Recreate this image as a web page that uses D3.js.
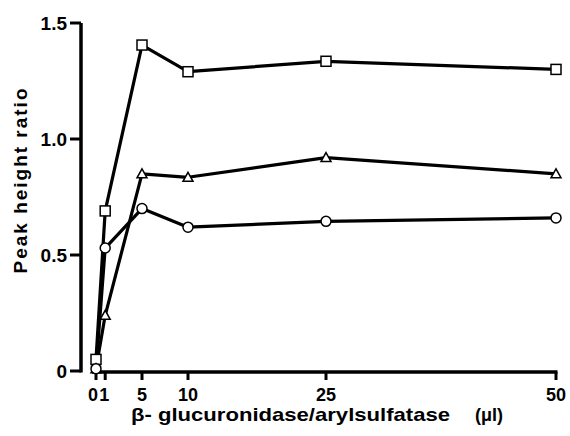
<!DOCTYPE html>
<html><head><meta charset="utf-8">
<script src="https://cdn.jsdelivr.net/npm/d3@7"></script>
<style>body{margin:0;background:#fff}svg{display:block}text{font-family:"Liberation Sans",Arial,sans-serif;font-weight:bold;fill:#000}</style>
</head><body><svg id="c" width="570" height="436"></svg>
<script>
const doses = [0, 1, 5, 10, 25, 50];
const squareSeries = [0.05, 0.69, 1.405, 1.29, 1.335, 1.30];
const triangleSeries = [0.01, 0.24, 0.85, 0.835, 0.92, 0.85];
const circleSeries = [0.01, 0.53, 0.70, 0.62, 0.645, 0.66];
const xTicks = [0, 1, 5, 10, 25, 50];
const xTickLabels = ["0", "1", "5", "10", "25", "50"];
const yTicks = [0, 0.5, 1.0, 1.5];
const yTickLabels = ["0", "0.5", "1.0", "1.5"];

const svg = d3.select("#c");
const x = d3.scaleLinear().domain([0, 50]).range([96, 556]);
const y = d3.scaleLinear().domain([0, 1.5]).range([371, 23]);

// y axis
const yAxis = svg.append("g").attr("transform", "translate(81,0)");
yAxis.append("line").attr("x1", 0).attr("x2", 0).attr("y1", y(1.5)).attr("y2", y(0)+1.5).attr("stroke", "#000").attr("stroke-width", 3.5);
yTicks.forEach((t, i) => {
  yAxis.append("line").attr("x1", -11).attr("x2", 0).attr("y1", y(t)).attr("y2", y(t)).attr("stroke", "#000").attr("stroke-width", 3);
  yAxis.append("text").attr("x", -14).attr("y", y(t)).attr("dy", "0.36em").attr("text-anchor", "end").attr("font-size", 19).text(yTickLabels[i]);
});

// x axis
const xAxis = svg.append("g");
xAxis.append("line").attr("x1", 92).attr("x2", x(50)+1.5).attr("y1", 372).attr("y2", 372).attr("stroke", "#000").attr("stroke-width", 3.5);
xTicks.forEach((t, i) => {
  xAxis.append("line").attr("x1", x(t)).attr("x2", x(t)).attr("y1", 372).attr("y2", 380).attr("stroke", "#000").attr("stroke-width", 3);
});
xTicks.forEach((t, i) => {
  let dx = 0;
  if (t === 0) dx = -3; if (t === 1) dx = -1;
  xAxis.append("text").attr("x", x(t) + dx).attr("y", 401).attr("text-anchor", "middle").attr("font-size", 18).text(xTickLabels[i]);
});

// axis titles
svg.append("text").attr("x", 131).attr("y", 421).attr("font-size", 19).attr("textLength", 319).attr("lengthAdjust", "spacingAndGlyphs").text("β- glucuronidase/arylsulfatase");
svg.append("text").attr("x", 475).attr("y", 421).attr("font-size", 18).text("(μl)");
svg.append("text").attr("transform", "translate(27,181) rotate(-90)").attr("text-anchor", "middle").attr("font-size", 19).attr("textLength", 185).text("Peak height ratio");

const line = d3.line().x((d, i) => x(doses[i])).y(d => y(d));
[squareSeries, triangleSeries, circleSeries].forEach(s => {
  svg.append("path").attr("d", line(s)).attr("fill", "none").attr("stroke", "#000").attr("stroke-width", 3.2).attr("stroke-linejoin", "round");
});

const mk = {stroke: "#000", "stroke-width": 1.5, fill: "#fff"};
function style(sel){ Object.entries(mk).forEach(([k,v]) => sel.attr(k, v)); return sel; }
style(svg.append("g").selectAll("rect").data(squareSeries).join("rect")
  .attr("x", (d, i) => x(doses[i]) - 5).attr("y", d => y(d) - 5).attr("width", 10).attr("height", 10));
style(svg.append("g").selectAll("path").data(triangleSeries).join("path")
  .attr("d", (d, i) => { const cx = x(doses[i]), cy = y(d); return `M${cx},${cy-5}L${cx+5},${cy+4}L${cx-5},${cy+4}Z`; }));
style(svg.append("g").selectAll("circle").data(circleSeries).join("circle")
  .attr("cx", (d, i) => x(doses[i])).attr("cy", d => y(d)).attr("r", 5));
</script></body></html>
